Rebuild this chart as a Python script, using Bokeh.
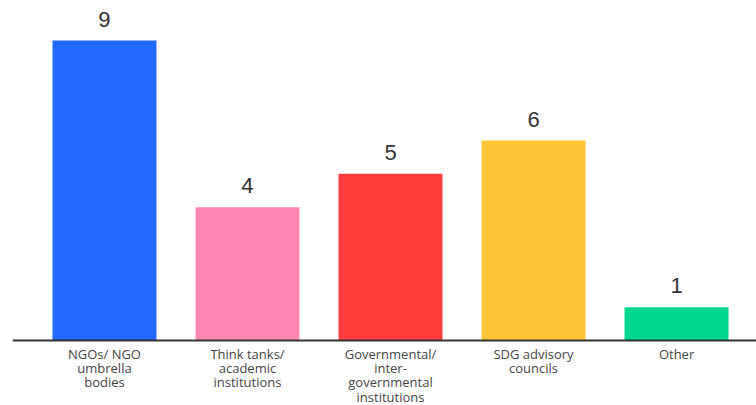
from bokeh.plotting import figure
from bokeh.models import ColumnDataSource, Range1d, Span
from bokeh.core.properties import value
from bokeh.embed import file_html
from bokeh.resources import INLINE

categories = [
    "NGOs/ NGO\numbrella\nbodies",
    "Think tanks/\nacademic\ninstitutions",
    "Governmental/\ninter-\ngovernmental\ninstitutions",
    "SDG advisory\ncouncils",
    "Other",
]
counts = [9, 4, 5, 6, 1]
colors = ["#2469ff", "#ff85b2", "#ff3d3d", "#ffc433", "#00d78f"]

xs = list(range(len(categories)))
src = ColumnDataSource(dict(x=xs, top=counts, color=colors, cat=categories,
                            zero=[0] * len(xs),
                            label=[str(c) for c in counts]))

p = figure(width=756, height=405, output_backend="svg", toolbar_location=None,
           x_range=Range1d(-0.643, 4.559), y_range=Range1d(-1.95, 10.2),
           x_axis_location=None, y_axis_location=None,
           min_border_left=12, min_border_right=0,
           min_border_top=0, min_border_bottom=0)
p.outline_line_color = None
p.xgrid.visible = False
p.ygrid.visible = False

p.vbar(x="x", top="top", bottom=0, width=0.727, fill_color="color",
       line_color=None, source=src)
p.add_layout(Span(location=0, dimension="width", line_color="#333333",
                  line_width=2))
p.text(x="x", y="top", text="label", source=src, text_align="center",
       text_baseline="bottom", y_offset=-14, text_font=value("Liberation Sans"),
       text_font_size="22px", text_color="#333333")
p.text(x="x", y="zero", text="cat", source=src, text_align="center",
       text_baseline="top", y_offset=4, text_font=value("Open Sans"),
       text_font_size="13px", text_color="#444444", text_line_height=0.8)

open("out.html", "w").write(file_html(p, INLINE))
